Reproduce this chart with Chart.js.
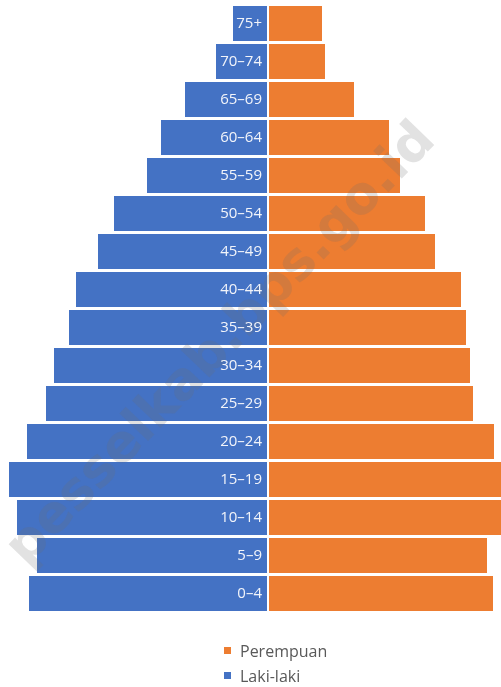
<!DOCTYPE html>
<html>
<head>
<meta charset="utf-8">
<script src="https://cdn.jsdelivr.net/npm/chart.js@4.4.1/dist/chart.umd.min.js"></script>
<style>
html,body{margin:0;padding:0;background:#fff;overflow:hidden}
#wrap{position:relative;width:501px;height:687px}
#c{position:absolute;left:0;top:0}
#legend{position:absolute;left:224px;top:638px;font-family:"Open Sans",sans-serif;font-size:16px;color:#595959}
.item{display:flex;align-items:center;height:25px;white-space:nowrap}
.box{width:7px;height:7px;margin-right:9px}
</style>
</head>
<body>
<div id="wrap"><canvas id="c" width="501" height="687"></canvas><div id="legend"></div></div>
<script>
const ageGroups = ["0–4","5–9","10–14","15–19","20–24","25–29","30–34","35–39","40–44","45–49","50–54","55–59","60–64","65–69","70–74","75+"];
const maleValues = [240,232,252,260,242,223,215,200,193,171,155,122,108,84,53,36];
const femaleValues = [226,220,240,245,227,206,203,199,194,168,158,133,122,87,58,55];
const seriesNames = ["Laki-laki","Perempuan"];
const seriesColors = ["#4472C4","#ED7D31"];
const watermarkText = "pesselkab.bps.go.id";

const watermarkPlugin = {
  id: 'watermark',
  afterDatasetsDraw(chart) {
    const ctx = chart.ctx;
    ctx.save();
    let size = 52;
    ctx.font = 'bold ' + size + 'px "DejaVu Sans"';
    const w = ctx.measureText(watermarkText).width;
    size = size * 592 / w;
    ctx.font = 'bold ' + size.toFixed(1) + 'px "DejaVu Sans"';
    ctx.translate(222, 345);
    ctx.rotate(-46 * Math.PI / 180);
    ctx.fillStyle = 'rgba(110,110,110,0.2)';
    ctx.textAlign = 'center';
    ctx.textBaseline = 'middle';
    ctx.fillText(watermarkText, 0, 0);
    ctx.restore();
  }
};

const ageLabelPlugin = {
  id: 'ageLabels',
  afterDatasetsDraw(chart) {
    const {ctx, scales: {x, y}} = chart;
    const x0 = x.getPixelForValue(0);
    ctx.save();
    ctx.font = '15px "Open Sans"';
    ctx.fillStyle = '#f2f4fa';
    ctx.textAlign = 'right';
    ctx.textBaseline = 'middle';
    ageGroups.forEach((g, i) => {
      ctx.fillText(g, x0 - 6, y.getPixelForValue(i));
    });
    ctx.restore();
  }
};

function build() {
  const chart = new Chart(document.getElementById('c'), {
    type: 'bar',
    data: {
      labels: ageGroups,
      datasets: [
        { label: seriesNames[0], data: maleValues.map(v => -v), backgroundColor: seriesColors[0] },
        { label: seriesNames[1], data: femaleValues, backgroundColor: seriesColors[1] }
      ]
    },
    options: {
      indexAxis: 'y',
      responsive: false,
      animation: false,
      devicePixelRatio: 1,
      layout: { padding: { left: 0, right: 0, top: 4.5, bottom: 74.5 } },
      datasets: { bar: { categoryPercentage: 1, barPercentage: 0.975, borderWidth: 1, borderColor: 'rgba(255,255,255,0.85)', borderSkipped: false } },
      scales: {
        x: { stacked: true, min: -268, max: 233, display: false },
        y: { stacked: true, reverse: true, display: false }
      },
      plugins: { legend: { display: false }, tooltip: { enabled: false } }
    },
    plugins: [watermarkPlugin, ageLabelPlugin]
  });
  const legend = document.getElementById('legend');
  [1, 0].forEach(i => {
    const it = document.createElement('div');
    it.className = 'item';
    const b = document.createElement('span');
    b.className = 'box';
    b.style.background = chart.data.datasets[i].backgroundColor;
    const t = document.createElement('span');
    t.textContent = chart.data.datasets[i].label;
    it.appendChild(b); it.appendChild(t);
    legend.appendChild(it);
  });
}
Promise.all([
  document.fonts.load('16px "Open Sans"'),
  document.fonts.load('bold 52px "DejaVu Sans"')
]).then(build, build);
</script>
</body>
</html>
